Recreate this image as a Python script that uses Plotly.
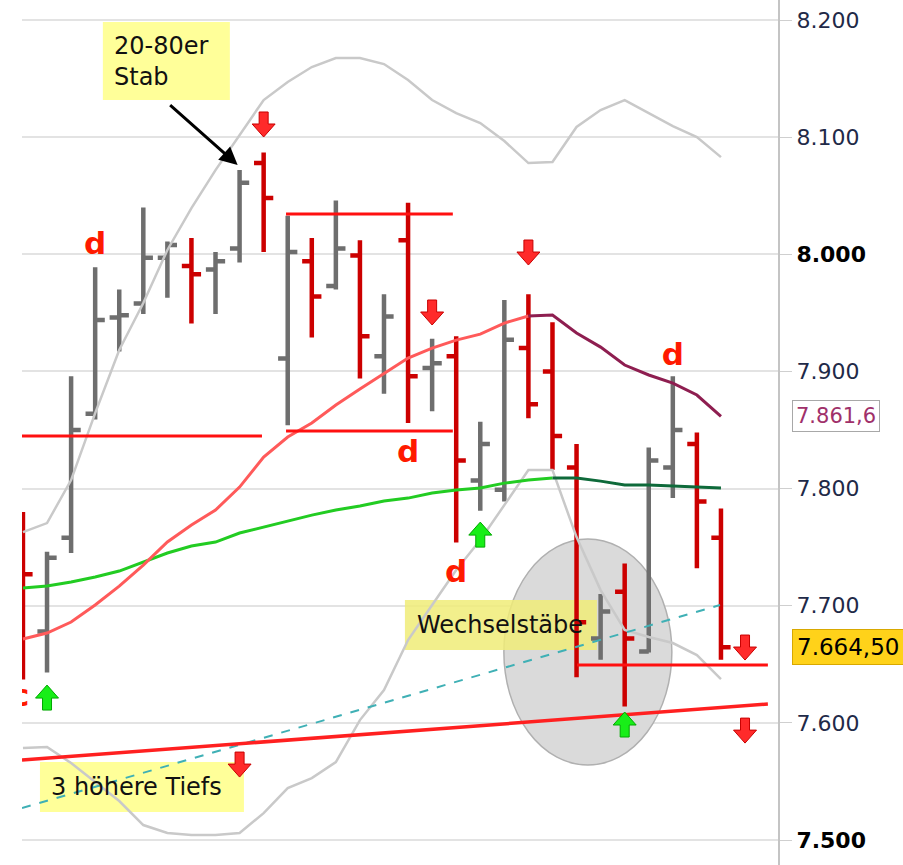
import plotly.graph_objects as go

# ---------------- data ----------------
bar_index = list(range(30))
opens  = [7.760, 7.678, 7.758, 7.864, 7.946, 7.958, 7.997, 7.990, 7.987, 8.005,
          8.078, 7.911, 7.994, 7.973, 7.999, 7.913, 8.012, 7.903, 7.913, 7.807,
          7.799, 7.920, 7.900, 7.818, 7.672, 7.712, 7.661, 7.818, 7.838, 7.758]
highs  = [7.780, 7.746, 7.896, 7.989, 7.970, 8.040, 8.011, 8.014, 8.002, 8.072,
          8.087, 8.033, 8.014, 8.046, 8.012, 7.966, 8.044, 7.928, 7.930, 7.857,
          7.961, 7.966, 7.942, 7.838, 7.710, 7.736, 7.835, 7.896, 7.848, 7.783]
lows   = [7.637, 7.643, 7.745, 7.859, 7.917, 7.949, 7.963, 7.941, 7.949, 7.993,
          8.002, 7.854, 7.929, 7.970, 7.894, 7.881, 7.856, 7.866, 7.754, 7.781,
          7.789, 7.860, 7.816, 7.639, 7.654, 7.614, 7.660, 7.792, 7.732, 7.654]
closes = [7.727, 7.741, 7.850, 7.944, 7.948, 7.997, 8.008, 7.983, 7.994, 8.061,
          8.048, 8.002, 7.964, 8.005, 7.930, 7.947, 7.896, 7.907, 7.824, 7.838,
          7.927, 7.872, 7.845, 7.686, 7.695, 7.672, 7.824, 7.850, 7.789, 7.6645]

ma_fast = [7.6716, 7.6767, 7.6861, 7.7006, 7.7168, 7.7347, 7.7544, 7.7689, 7.7817, 7.8013,
           7.8269, 7.8440, 7.8560, 7.8713, 7.8850, 7.8984, 7.9115, 7.9200, 7.9268, 7.9319,
           7.9413, 7.9473, 7.9482, 7.9328, 7.9208, 7.9055, 7.8970, 7.8901, 7.8799, 7.8616]
ma_slow = [7.7151, 7.7168, 7.7202, 7.7245, 7.7296, 7.7373, 7.7450, 7.7510, 7.7544, 7.7621,
           7.7672, 7.7723, 7.7774, 7.7817, 7.7851, 7.7894, 7.7919, 7.7962, 7.7988, 7.8005,
           7.8047, 7.8073, 7.8090, 7.8090, 7.8064, 7.8030, 7.8030, 7.8022, 7.8013, 7.8005]
band_upper = [7.7629, 7.7706, 7.8073, 7.8645, 7.9183, 7.9584, 8.0037, 8.0395, 8.0719, 8.1018,
              8.1317, 8.1471, 8.1599, 8.1676, 8.1676, 8.1624, 8.1488, 8.1317, 8.1206, 8.1121,
              8.0967, 8.0779, 8.0788, 8.1087, 8.1232, 8.1317, 8.1206, 8.1095, 8.1001, 8.0830]
band_lower = [7.5785, 7.5794, 7.5657, 7.5495, 7.5333, 7.5128, 7.5060, 7.5043, 7.5043, 7.5060,
              7.5230, 7.5444, 7.5529, 7.5666, 7.6024, 7.6280, 7.6707, 7.7006, 7.7305, 7.7561,
              7.7860, 7.8158, 7.8158, 7.7586, 7.7134, 7.6793, 7.6733, 7.6682, 7.6579, 7.6374]

# support / resistance drawings
hline_level = [7.8449, 8.0344, 7.8491, 7.6494]
hline_start = [-0.04, 10.93, 10.93, 23.02]
hline_end   = [9.93, 17.86, 17.86, 30.95]
trend_x = [-0.04, 30.95]
trend_y = [7.5683, 7.6161]
channel_x = [-0.04, 28.96]
channel_y = [7.5273, 7.7006]

# signals
down_arrow_idx = [10, 17, 21, 9, 30, 30]
down_arrow_top = [8.1215, 7.9610, 8.0122, 7.5751, 7.6750, 7.6041]
up_arrow_idx = [1, 19, 25]
up_arrow_tip = [7.6323, 7.7714, 7.6093]
label_idx = [3, 16, 18, 27, -0.12]
label_y = [8.007, 7.829, 7.727, 7.912, 7.621]
label_txt = ["d", "d", "d", "d", "c"]

tick_vals = [7.5, 7.6, 7.7, 7.8, 7.9, 8.0, 8.1, 8.2]
tick_text = ["<b><span style='color:#000'>7.500</span></b>", "7.600", "7.700", "7.800",
             "7.900", "<b><span style='color:#000'>8.000</span></b>", "8.100", "8.200"]

last_ma = 7.8616
last_close = 7.6645

# ---------------- figure ----------------
PX_X = 24.07     # pixels per bar
PX_Y = 1171.4    # pixels per price unit
FONT = "DejaVu Sans"

fig = go.Figure()

# Bollinger bands
for band in (band_upper, band_lower):
    fig.add_trace(go.Scatter(x=bar_index, y=band, mode="lines",
                             line=dict(color="#c9c9c9", width=2.5), hoverinfo="skip"))

# slow MA (green, dark green once flattening)
fig.add_trace(go.Scatter(x=bar_index[:23], y=ma_slow[:23], mode="lines",
                         line=dict(color="#22cc22", width=3), hoverinfo="skip"))
fig.add_trace(go.Scatter(x=bar_index[22:], y=ma_slow[22:], mode="lines",
                         line=dict(color="#0e6a3a", width=3), hoverinfo="skip"))
# fast MA (red, maroon once falling)
fig.add_trace(go.Scatter(x=bar_index[:22], y=ma_fast[:22], mode="lines",
                         line=dict(color="#ff5a5a", width=3), hoverinfo="skip"))
fig.add_trace(go.Scatter(x=bar_index[21:], y=ma_fast[21:], mode="lines",
                         line=dict(color="#8e1e50", width=3), hoverinfo="skip"))

# dashed channel line
fig.add_trace(go.Scatter(x=channel_x, y=channel_y, mode="lines",
                         line=dict(color="#3fb0b5", width=2, dash="dash"), hoverinfo="skip"))

# OHLC bars
fig.add_trace(go.Ohlc(x=bar_index, open=opens, high=highs, low=lows, close=closes,
                      increasing=dict(line=dict(color="#6e6e6e", width=4.5)),
                      decreasing=dict(line=dict(color="#cc0000", width=4.5)),
                      tickwidth=0.4, hoverinfo="skip"))

# red horizontal lines
for x0, x1, lv in zip(hline_start, hline_end, hline_level):
    fig.add_trace(go.Scatter(x=[x0, x1], y=[lv, lv], mode="lines",
                             line=dict(color="#ff1010", width=3), hoverinfo="skip"))
# rising trend line
fig.add_trace(go.Scatter(x=trend_x, y=trend_y, mode="lines",
                         line=dict(color="#ff2020", width=3.5), hoverinfo="skip"))

# d / c labels
fig.add_trace(go.Scatter(x=label_idx, y=label_y, mode="text", text=label_txt,
                         textfont=dict(family=FONT, size=31, color="#ff1a00", weight="bold"),
                         textposition="middle center", cliponaxis=True, hoverinfo="skip"))

shapes = []
# ellipse "Wechselstäbe"
shapes.append(dict(type="circle", xref="x", yref="y", x0=19.98, x1=26.96, y0=7.564, y1=7.757,
                   fillcolor="#dadada", line=dict(color="#b0b0b0", width=1.5), layer="between"))


def px_box(left_px, top_px, w_px, h_px):
    """convert a pixel-sized box anchored at a data point to data coordinates"""
    return left_px, top_px, left_px + w_px / PX_X, top_px - h_px / PX_Y


# text box backgrounds (drawn beneath the price marks)
box_specs = [  # (x data, y data top, width px, height px, colour)
    (3.32, 8.1983, 127, 78, "#ffff99"),
    (15.87, 7.7049, 192, 50, "rgba(240,236,120,0.85)"),
    (0.706, 7.5666, 204, 50, "#ffff99"),
]
for bx, by, bw, bh, col in box_specs:
    x0, y0, x1, y1 = px_box(bx, by, bw, bh)
    shapes.append(dict(type="rect", xref="x", yref="y", x0=x0, x1=x1, y0=y1, y1=y0,
                       fillcolor=col, line=dict(width=0), layer="between"))


def arrow_path(i, y0, down):
    if down:
        pts = [(-4.5, 0), (4.5, 0), (4.5, 12), (11.5, 12), (0, 25), (-11.5, 12), (-4.5, 12)]
    else:
        pts = [(0, 0), (11.5, 13), (4.5, 13), (4.5, 25), (-4.5, 25), (-4.5, 13), (-11.5, 13)]
    s = []
    for k, (dx, dy) in enumerate(pts):
        s.append(("M" if k == 0 else "L") + f"{i + dx / PX_X:.4f},{y0 - dy / PX_Y:.5f}")
    return " ".join(s) + " Z"


for i, y0 in zip(down_arrow_idx, down_arrow_top):
    shapes.append(dict(type="path", xref="x", yref="y", path=arrow_path(i, y0, True),
                       fillcolor="#ff2a2a", line=dict(color="#c80000", width=1), layer="above"))
for i, y0 in zip(up_arrow_idx, up_arrow_tip):
    shapes.append(dict(type="path", xref="x", yref="y", path=arrow_path(i, y0, False),
                       fillcolor="#18ee18", line=dict(color="#00a800", width=1), layer="above"))

annotations = []
# text in the boxes
annotations.append(dict(x=3.32 + 9 / PX_X, y=8.1983 - 39 / PX_Y, xref="x", yref="y",
                        xanchor="left", yanchor="middle", text="20-80er<br>Stab",
                        showarrow=False, align="left",
                        font=dict(family=FONT, size=24, color="#111")))
annotations.append(dict(x=8.92, y=8.0762, xref="x", yref="y", ax=-71, ay=-63, text=" ",
                        showarrow=True, arrowhead=2, arrowsize=1.2, arrowwidth=3,
                        arrowcolor="#000"))
annotations.append(dict(x=15.87 + 10 / PX_X, y=7.7049 - 25 / PX_Y, xref="x", yref="y",
                        xanchor="left", yanchor="middle", text="Wechselstäbe",
                        showarrow=False, align="left",
                        font=dict(family=FONT, size=24, color="#111")))
annotations.append(dict(x=0.706 + 9 / PX_X, y=7.5666 - 25 / PX_Y, xref="x", yref="y",
                        xanchor="left", yanchor="middle", text="3 höhere Tiefs",
                        showarrow=False, align="left",
                        font=dict(family=FONT, size=24, color="#111")))
# price tags on the axis
annotations.append(dict(x=1.0185, y=last_ma, xref="paper", yref="y", xanchor="left",
                        yanchor="middle", text="7.861,6", showarrow=False,
                        bgcolor="#ffffff", bordercolor="#a8a8a8", borderwidth=1, borderpad=3,
                        font=dict(family=FONT, size=21, color="#a0306a")))
annotations.append(dict(x=1.0185, y=last_close, xref="paper", yref="y", xanchor="left",
                        yanchor="middle", text="7.664,50", showarrow=False,
                        bgcolor="#ffd21a", bordercolor="#d8a800", borderwidth=1, borderpad=4,
                        font=dict(family=FONT, size=23, color="#000")))

fig.update_layout(
    width=903, height=865,
    margin=dict(l=22, r=125, t=0, b=0),
    paper_bgcolor="white", plot_bgcolor="white",
    showlegend=False,
    font=dict(family=FONT),
    shapes=shapes, annotations=annotations,
    xaxis=dict(range=[-0.04, 31.37], showgrid=False, zeroline=False, showticklabels=False,
               showline=False, ticks="", rangeslider=dict(visible=False), fixedrange=True),
    yaxis=dict(range=[7.4787, 8.2171], side="right", tickvals=tick_vals, ticktext=tick_text,
               ticks="outside", ticklen=12, tickcolor="#cfcfcf", tickwidth=1,
               showline=True, linecolor="#c4c4c4", linewidth=2,
               showgrid=True, gridcolor="#e3e3e3", gridwidth=1.5, zeroline=False,
               tickfont=dict(family=FONT, size=22, color="#1f2a48")),
)

fig.write_html("out.html", config={"displayModeBar": False},
               post_script="document.body.style.margin='0';")
